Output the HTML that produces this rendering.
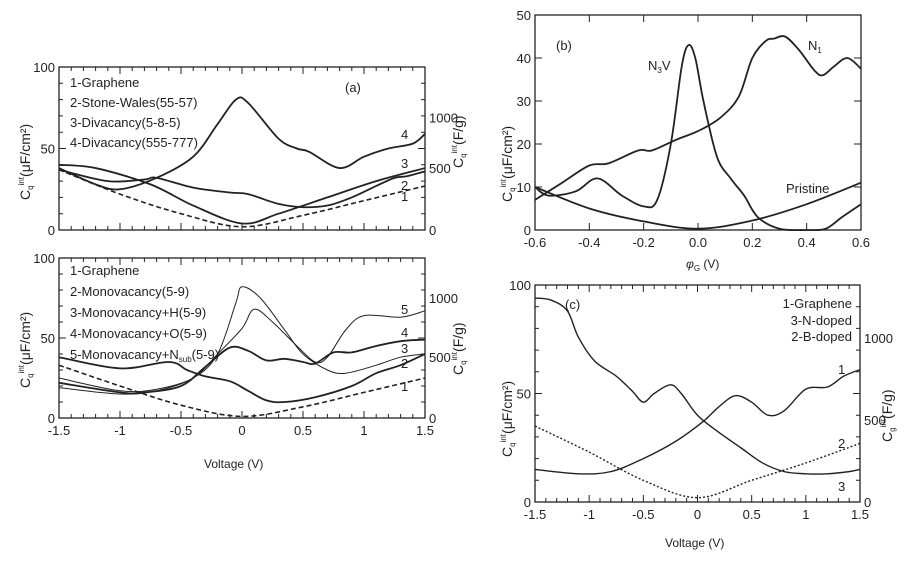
<!DOCTYPE html>
<html><head><meta charset="utf-8"><style>
html,body{margin:0;padding:0;background:#fff;}
svg{display:block;font-family:"Liberation Sans",Arial,sans-serif;}
</style></head><body>
<svg id="s" width="911" height="561" viewBox="0 0 911 561" xmlns="http://www.w3.org/2000/svg">
<rect width="911" height="561" fill="#fff"/>
<g font-size="13" fill="#222">
<text x="70" y="87">1-Graphene</text>
<text x="70" y="107">2-Stone-Wales(55-57)</text>
<text x="70" y="127">3-Divacancy(5-8-5)</text>
<text x="70" y="147">4-Divacancy(555-777)</text>
<text x="345" y="92">(a)</text>
<text x="401" y="139">4</text><text x="401" y="168">3</text><text x="401" y="190">2</text><text x="401" y="201">1</text>
<text x="70" y="275">1-Graphene</text>
<text x="70" y="296">2-Monovacancy(5-9)</text>
<text x="70" y="317">3-Monovacancy+H(5-9)</text>
<text x="70" y="338">4-Monovacancy+O(5-9)</text>
<text x="70" y="359">5-Monovacancy+N<tspan font-size="8" dy="3">sub</tspan><tspan dy="-3">(5-9)</tspan></text>
<text x="401" y="314">5</text><text x="401" y="337">4</text><text x="401" y="353">3</text><text x="401" y="368">2</text><text x="401" y="391">1</text>
<text x="204" y="468" font-size="12">Voltage (V)</text>
<text x="556" y="50">(b)</text>
<text x="648" y="70">N<tspan font-size="8" dy="3">3</tspan><tspan dy="-3">V</tspan></text>
<text x="808" y="50">N<tspan font-size="8" dy="3">1</tspan></text>
<text x="786" y="193">Pristine</text>
<text x="686" y="268" font-size="12"><tspan font-style="italic">φ</tspan><tspan font-size="8" dy="3">G</tspan><tspan dy="-3"> (V)</tspan></text>
<text x="565" y="309">(c)</text>
<text x="852" y="308" text-anchor="end">1-Graphene</text>
<text x="852" y="325" text-anchor="end">3-N-doped</text>
<text x="852" y="341" text-anchor="end">2-B-doped</text>
<text x="838" y="374">1</text><text x="838" y="448">2</text><text x="838" y="491">3</text>
<text x="665" y="547" font-size="12">Voltage (V)</text>
</g>
<g font-size="14" fill="#222">
<text transform="translate(30,200) rotate(-90)">C<tspan font-size="8" dy="3">q</tspan><tspan font-size="8" dy="-9">int</tspan><tspan dy="6">(μF/cm²)</tspan></text>
<text transform="translate(30,388) rotate(-90)">C<tspan font-size="8" dy="3">q</tspan><tspan font-size="8" dy="-9">int</tspan><tspan dy="6">(μF/cm²)</tspan></text>
<text transform="translate(463,168) rotate(-90)">C<tspan font-size="8" dy="3">q</tspan><tspan font-size="8" dy="-9">int</tspan><tspan dy="6">(F/g)</tspan></text>
<text transform="translate(463,375) rotate(-90)">C<tspan font-size="8" dy="3">q</tspan><tspan font-size="8" dy="-9">int</tspan><tspan dy="6">(F/g)</tspan></text>
<text transform="translate(512,202) rotate(-90)">C<tspan font-size="8" dy="3">q</tspan><tspan font-size="8" dy="-9">int</tspan><tspan dy="6">(μF/cm²)</tspan></text>
<text transform="translate(512,457) rotate(-90)">C<tspan font-size="8" dy="3">q</tspan><tspan font-size="8" dy="-9">int</tspan><tspan dy="6">(μF/cm²)</tspan></text>
<text transform="translate(892,442) rotate(-90)">C<tspan font-size="8" dy="3">g</tspan><tspan font-size="8" dy="-9">int</tspan><tspan dy="6">(F/g)</tspan></text>
</g>
<g id="dyn"></g>
</svg>
<script>
var NS="http://www.w3.org/2000/svg",G=document.getElementById("dyn");
function el(t,a,txt){var e=document.createElementNS(NS,t);for(var k in a)e.setAttribute(k,a[k]);if(txt!=null)e.textContent=txt;G.appendChild(e);return e;}
function panel(P){
 var X=function(v){return P.x0+(v-P.xmin)/(P.xmax-P.xmin)*(P.x1-P.x0);};
 var Y=function(v){return P.y0-(v-P.ymin)/(P.ymax-P.ymin)*(P.y0-P.y1);};
 P.X=X;P.Y=Y;
 el("rect",{x:P.x0,y:P.y1,width:P.x1-P.x0,height:P.y0-P.y1,fill:"none",stroke:"#222","stroke-width":1.3});
 var d="";
 for(var v=P.xmin;v<=P.xmax+1e-9;v+=P.xminor){var x=X(v),maj=Math.abs(Math.round(v/P.xmaj)*P.xmaj-v)<1e-6,l=maj?7:4;d+="M"+x+" "+P.y0+"v-"+l+"M"+x+" "+P.y1+"v"+l;}
 for(var v=P.ymin;v<=P.ymax+1e-9;v+=P.yminor){var y=Y(v),maj=Math.abs(Math.round(v/P.ymaj)*P.ymaj-v)<1e-6,l=maj?7:4;d+="M"+P.x0+" "+y+"h"+l;if(!P.r2)d+="M"+P.x1+" "+y+"h-"+l;}
 el("path",{d:d,stroke:"#222","stroke-width":1,fill:"none"});
 if(P.xl)P.xl.forEach(function(v){el("text",{x:X(v),y:P.y0+17,"font-size":13,"text-anchor":"middle",fill:"#222"},P.xf?P.xf(v):String(v));});
 P.yl.forEach(function(v){el("text",{x:P.x0-4,y:Y(v)+5,"font-size":13,"text-anchor":"end",fill:"#222"},String(v));});
 if(P.rl)P.rl.forEach(function(a){el("text",{x:P.x1+4,y:P.Y(a[0])+5,"font-size":13,fill:"#222"},a[1]);});
}
function curve(P,pts,st){
 var p=pts.map(function(q){return [P.X(q[0]),P.Y(q[1])];});
 var d="M"+p[0][0]+" "+p[0][1];
 for(var i=0;i<p.length-1;i++){var a=p[i>0?i-1:i],b=p[i],c=p[i+1],e=p[i+2<p.length?i+2:i+1];
  d+="C"+(b[0]+(c[0]-a[0])/6)+" "+(b[1]+(c[1]-a[1])/6)+" "+(c[0]-(e[0]-b[0])/6)+" "+(c[1]-(e[1]-b[1])/6)+" "+c[0]+" "+c[1];}
 var at={d:d,fill:"none",stroke:"#222","stroke-width":st.w||1.8,"stroke-linejoin":"round"};
 if(st.dash)at["stroke-dasharray"]=st.dash;
 el("path",at);
}
var A={x0:59,x1:425,y0:230,y1:67,xmin:-1.5,xmax:1.5,ymin:0,ymax:100,xminor:0.1,xmaj:0.5,yminor:10,ymaj:50,yl:[0,50,100],rl:[[0,"0"],[38,"500"],[69,"1000"]]};
panel(A);
curve(A,[[-1.5,37],[-1,22],[-0.5,10],[0,2],[0.5,9],[1,18],[1.5,27]],{dash:"5,3",w:1.6});
curve(A,[[-1.5,40],[-1.2,38],[-0.75,28],[-0.4,15],[0,4],[0.3,10],[0.7,20],[1.1,30],[1.5,38]],{});
curve(A,[[-1.5,37],[-1.1,30],[-0.8,31],[-0.7,32],[-0.4,26],[-0.1,23],[0.05,22],[0.3,16],[0.5,14],[0.7,15],[0.9,20],[1.1,27],[1.25,32],[1.35,33],[1.5,36]],{});
curve(A,[[-1.5,38],[-1.2,28],[-1.0,25],[-0.7,32],[-0.4,45],[-0.2,65],[-0.05,80],[0.05,78],[0.3,56],[0.45,50],[0.55,48],[0.8,38],[1.0,45],[1.2,50],[1.4,53],[1.5,59]],{});
var B={x0:59,x1:425,y0:418,y1:258,xmin:-1.5,xmax:1.5,ymin:0,ymax:100,xminor:0.1,xmaj:0.5,yminor:10,ymaj:50,yl:[0,50,100],xl:[-1.5,-1,-0.5,0,0.5,1,1.5],rl:[[0,"0"],[38,"500"],[75,"1000"]]};
panel(B);
curve(B,[[-1.5,33],[-1,20],[-0.5,8],[0,1],[0.5,7],[1,16],[1.5,25]],{dash:"5,3",w:1.6});
curve(B,[[-1.5,38],[-1.0,31],[-0.6,35],[-0.45,30],[-0.3,26],[-0.1,23],[0.05,17],[0.2,11],[0.35,10],[0.6,13],[0.9,20],[1.1,28],[1.3,33],[1.5,40]],{});
curve(B,[[-1.5,22],[-1.0,16],[-0.8,16],[-0.5,20],[-0.3,32],[-0.1,44],[0.05,42],[0.2,36],[0.35,37],[0.5,35],[0.6,34],[0.75,41],[0.9,41],[1.1,45],[1.3,48],[1.5,49]],{});
curve(B,[[-1.5,25],[-1,17],[-0.7,18],[-0.4,25],[-0.2,40],[-0.05,72],[0,82],[0.15,75],[0.35,55],[0.5,40],[0.7,30],[0.85,28],[1.1,33],[1.3,38],[1.5,40]],{w:1});
curve(B,[[-1.5,19],[-1,15],[-0.7,17],[-0.4,25],[-0.2,40],[0,56],[0.1,68],[0.25,60],[0.45,45],[0.6,35],[0.7,38],[0.85,55],[1.0,64],[1.3,63],[1.5,67]],{w:1});
var C={x0:535,x1:861,y0:230,y1:15,xmin:-0.6,xmax:0.6,ymin:0,ymax:50,xminor:0.2,xmaj:0.2,yminor:10,ymaj:10,yl:[0,10,20,30,40,50],xl:[-0.6,-0.4,-0.2,0,0.2,0.4,0.6],xf:function(v){return v.toFixed(1);}};
panel(C);
curve(C,[[-0.6,10],[-0.4,5],[-0.2,2],[0,0.3],[0.2,2.2],[0.4,6],[0.6,11]],{});
curve(C,[[-0.6,7],[-0.5,11],[-0.4,15],[-0.33,15.5],[-0.22,18.5],[-0.17,18.5],[-0.08,21],[0,23],[0.08,26],[0.15,31],[0.2,40],[0.25,44],[0.28,44.5],[0.32,45],[0.37,42],[0.43,37],[0.46,36],[0.5,38],[0.55,40],[0.6,37.5]],{});
curve(C,[[-0.6,10],[-0.55,8],[-0.45,9],[-0.37,12],[-0.28,8],[-0.2,5.5],[-0.15,7],[-0.1,20],[-0.06,38],[-0.035,43],[-0.01,40],[0.02,30],[0.07,17],[0.12,12],[0.17,8],[0.22,3],[0.3,0.3],[0.4,0],[0.47,0.3],[0.53,3],[0.6,6]],{});
var D={x0:535,x1:860,y0:502,y1:285,xmin:-1.5,xmax:1.5,ymin:0,ymax:100,xminor:0.1,xmaj:0.5,yminor:10,ymaj:50,yl:[0,50,100],xl:[-1.5,-1,-0.5,0,0.5,1,1.5],rl:[[0,"0"],[37.8,"500"],[75.6,"1000"]]};
panel(D);
curve(D,[[-1.5,35],[-1,23],[-0.5,10],[0,2],[0.5,10],[1,18],[1.5,27]],{dash:"2,2",w:1.4});
curve(D,[[-1.5,94],[-1.35,93],[-1.2,88],[-1.1,76],[-0.95,65],[-0.75,58],[-0.6,51],[-0.5,46],[-0.4,50],[-0.25,54],[-0.15,50],[0,40],[0.2,32],[0.4,25],[0.6,18],[0.8,14],[1.0,13],[1.2,13],[1.4,14],[1.5,15]],{w:1.4});
curve(D,[[-1.5,15],[-1.1,13],[-0.8,14],[-0.5,20],[-0.2,28],[0.05,37],[0.2,44],[0.35,49],[0.5,46],[0.65,40],[0.8,42],[1.0,52],[1.2,53],[1.35,58],[1.5,61]],{w:1.4});
</script>
</body></html>
